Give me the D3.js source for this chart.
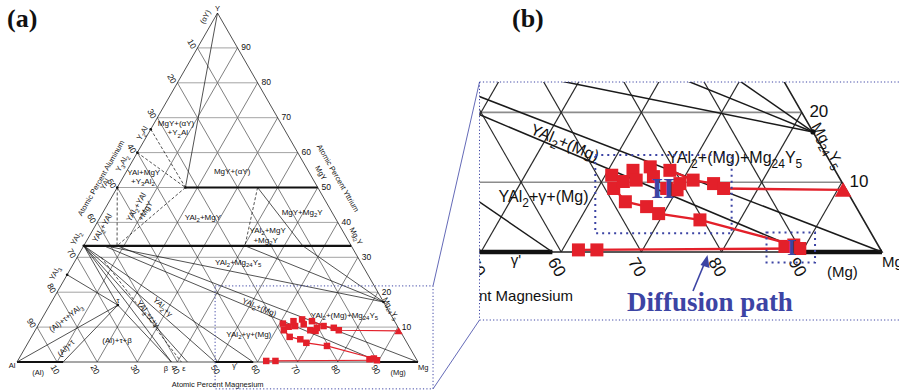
<!DOCTYPE html>
<html>
<head>
<meta charset="utf-8">
<script src="https://cdn.jsdelivr.net/npm/d3@7"></script>
<style>
  body { margin: 0; background: #fff; }
  svg { display: block; }
</style>
</head>
<body>
<svg id="chart" width="899" height="391"></svg>
<script>
'use strict';

// compositions are [Mg at.%, Y at.%]  (Al = 100 - Mg - Y)
const gridSteps = [10, 20, 30, 40, 50, 60, 70, 80, 90];

// single-phase ranges (drawn thick)
const singlePhase = [
  [[0, 0], [11.5, 0]],        // (Al)
  [[49.4, 0], [58.9, 0]],     // gamma
  [[90.5, 0], [100, 0]],      // (Mg)
  [[17, 50], [50, 50]],       // MgY
  [[0, 33.3], [66.7, 33.3]]   // YAl2 ... Mg2Y
];

const tieLines = [
  [[0, 100], [17, 50]],
  [[35, 50], [54.6, 33.3]],
  [[40.2, 33.3], [82.8, 17.2]],
  [[54.6, 33.3], [82.8, 17.2]],
  [[5.3, 33.3], [82.8, 17.2]],
  [[8.3, 33.3], [100, 0]],
  [[5, 33.3], [90.5, 0]],
  [[0, 33.3], [58.9, 0]],
  [[0, 33.3], [49.4, 0]],
  [[0, 33.3], [42.5, 0]],
  [[0, 33.3], [38.5, 0]],
  [[0, 33.3], [17, 16.3]],
  [[0, 25], [17, 16.3]],
  [[0, 0], [17, 16.3]],
  [[11.5, 0], [17, 16.3]],
  [[17, 16.3], [38.5, 0]]
];

const dashedTies = [
  [[0, 66.7], [17, 50]],
  [[0, 60], [17, 50]],
  [[17, 50], [8.3, 33.3]],
  [[0, 50], [8.3, 33.3]],
  [[35, 50], [40.2, 33.3]],
  [[6, 30], [41, 0]]
];

const compoundDots = [[0, 66.7], [0, 60], [0, 50], [0, 33.3], [0, 25], [17, 16.3], [17, 50], [82.8, 17.2]];

const compoundLabels = [
  { t: 'Y', m: -0.7, y: 101.4, r: 0 },
  { t: '(αY)', m: -2.5, y: 98.9, r: -60 },
  { t: 'Y_2Al', m: -1.6, y: 65.6, r: -60 },
  { t: 'Y_3Al_2', m: -2.3, y: 57.0, r: -60 },
  { t: 'YAl', m: -3.6, y: 51.0, r: -60 },
  { t: 'YAl_2', m: -3.0, y: 35.5, r: -60 },
  { t: 'YAl_3', m: -3.3, y: 25.5, r: -60 },
  { t: 'MgY', m: 48.7, y: 54.2, r: 60 },
  { t: 'Mg_2Y', m: 66.5, y: 36.1, r: 60 },
  { t: 'Mg_24Y_5', m: 85.6, y: 15.3, r: 60 },
  { t: 'τ', m: 16.3, y: 17.8, r: 0 },
  { t: '(Al)', m: 6.7, y: -2.9, r: 0 },
  { t: 'β', m: 38.0, y: -1.7, r: 0 },
  { t: 'ε', m: 42.5, y: -1.7, r: 0 },
  { t: 'γ\'', m: 54.9, y: -1.1, r: 0 },
  { t: '(Mg)', m: 96.5, y: -2.9, r: 0 },
  { t: 'Al', m: -0.7, y: -1.1, r: 0 },
  { t: 'Mg', m: 102, y: -1.4, r: 0 }
];

const regionLabels = [
  { t: 'MgY+(αY)', m: 5.5, y: 68.3, r: 0 },
  { t: '+Y_2Al', m: 7.2, y: 65.8, r: 0 },
  { t: 'MgY+(αY)', m: 26.3, y: 54.7, r: 0 },
  { t: 'YAl+MgY', m: 4.4, y: 54.4, r: 0 },
  { t: '+Y_3Al_2', m: 5.5, y: 51.8, r: 0 },
  { t: 'YAl_2+YAl', m: 7.5, y: 44.4, r: -60 },
  { t: '+MgY', m: 10.3, y: 43.3, r: -60 },
  { t: 'YAl_2+YAl', m: 2, y: 38.4, r: -60 },
  { t: 'YAl_2+MgY', m: 25.6, y: 41.5, r: 0 },
  { t: 'MgY+Mg_2Y', m: 49.6, y: 43.0, r: 0 },
  { t: 'YAl_2+MgY', m: 43.6, y: 37.8, r: 0 },
  { t: '+Mg_2Y', m: 44.5, y: 35.0, r: 0 },
  { t: 'YAl_2+Mg_24Y_5', m: 40.8, y: 28.7, r: 0 },
  { t: 'YAl_2+(Mg)', m: 52.6, y: 15.7, r: 23 },
  { t: 'YAl_2+γ+(Mg)', m: 53.8, y: 8.0, r: 0 },
  { t: 'YAl_2+(Mg)+Mg_24Y_5', m: 74.9, y: 13.5, r: 0 },
  { t: 'YAl_2+γ', m: 28.5, y: 15.8, r: 45 },
  { t: 'YAl_2+ε+γ', m: 25.8, y: 13.8, r: 52 },
  { t: '(Al)+τ+β', m: 21.8, y: 6.3, r: 0 },
  { t: '(Al)+τ+YAl_3', m: 5.9, y: 12.6, r: -38 },
  { t: '(Al)+τ', m: 10.2, y: 4.0, r: -45 }
];

const axisTitles = [
  { t: 'Atomic Percent Magnesium', m: 53.2, y: -6.3, r: 0 },
  { t: 'Atomic Percent Aluminum', m: -5.4, y: 52.7, r: -60 },
  { t: 'Atomic Percent Yttrium', m: 53.7, y: 52.7, r: 60 }
];

// measured compositions (red)
const clusterII = [[60.8, 11.0], [62.0, 9.1], [62.7, 10.1], [63.1, 11.7], [64.2, 10.3], [65.0, 12.2],
  [66.1, 10.8], [67.7, 11.7], [68.6, 9.1], [70.0, 8.9], [69.9, 9.8], [71.3, 10.3], [74.1, 9.8], [75.7, 9.1]];
const lowerChain = [[64.4, 7.2], [67.4, 6.5], [69.4, 5.5], [75.0, 4.6]];
const clusterI = [[87.5, 0.8], [88.5, 1.0], [89.5, 0.5]];
const bottomPts = [[62.0, 0.3], [64.3, 0.3]];
const endPoint = [90.7, 8.9];

const pathUpper = [[67.7, 11.7], [71.3, 10.3], [74.1, 9.8], [75.7, 9.1], [90.7, 8.9]];
const pathLower = [[61.2, 9.8], [64.4, 7.2], [67.4, 6.5], [69.4, 5.5], [75.0, 4.6], [88.5, 1.0]];
const pathBottom = [[62.0, 0.3], [89.5, 0.5]];

// zoom boxes for panel (b), corners as [Mg, Y]
const zoomBox = [[38.5, 21.8], [107.6, -7.7]];
const boxII = [[57.3, 13.9], [79.9, 2.7]];
const boxI = [[84.2, 2.8], [92.4, -1.5]];
const labelII = [68.1, 9.2];
const labelI = [88.4, 0.7];

const svg = d3.select('#chart');
const RED = '#e3202a', BLUE = '#3c44a4';
const SANS = '"Liberation Sans", Arial, sans-serif';
const SERIF = '"Liberation Serif", "Times New Roman", serif';

// scales: u = Mg + Y/2, v = Y (fractions)
const xa = d3.scaleLinear().domain([0, 1]).range([17, 418]);
const ya = d3.scaleLinear().domain([0, 1]).range([362, 13]);
const xb = d3.scaleLinear().domain([0, 1]).range([80, 882]);
const yb = d3.scaleLinear().domain([0, 1]).range([252, -446]);

function proj(sx, sy) {
  return (mg, y) => [sx(mg / 100 + y / 200), sy(y / 100)];
}

function seg(g, a, b, color, w, dash) {
  const l = g.append('line')
    .attr('x1', a[0]).attr('y1', a[1]).attr('x2', b[0]).attr('y2', b[1])
    .attr('stroke', color).attr('stroke-width', w);
  if (dash) l.attr('stroke-dasharray', dash);
  return l;
}

// text with "_12" style subscripts
function label(g, str, x, y, fs, rot, anchor) {
  const t = g.append('text')
    .attr('transform', 'translate(' + x + ',' + y + ') rotate(' + (rot || 0) + ')')
    .attr('font-size', fs)
    .attr('text-anchor', anchor || 'middle')
    .attr('dy', fs * 0.35)
    .attr('fill', '#111')
    .style('font-family', SANS);
  let sub = false;
  str.split(/(_\d+)/).forEach(p => {
    if (!p) return;
    if (p[0] === '_') {
      t.append('tspan').attr('dy', fs * 0.3).attr('font-size', fs * 0.75).text(p.slice(1));
      sub = true;
    } else {
      const ts = t.append('tspan').text(p);
      if (sub) { ts.attr('dy', -fs * 0.3); sub = false; }
    }
  });
  return t;
}

function drawDiagram(g, P, k, inView) {
  const lab = (str, p, fs, rot, anchor) => { if (inView(p)) label(g, str, p[0], p[1], fs, rot, anchor); };

  // grid
  gridSteps.forEach(s => {
    seg(g, P(0, s), P(100 - s, s), '#8c8c8c', 0.8 * k);
    seg(g, P(s, 0), P(s, 100 - s), '#2a2a2a', 0.6 * k);
    seg(g, P(100 - s, 0), P(0, 100 - s), '#2a2a2a', 0.6 * k);
  });
  g.append('path')
    .attr('d', d3.line()([P(0, 0), P(100, 0), P(0, 100)]) + 'Z')
    .attr('fill', 'none').attr('stroke', '#222').attr('stroke-width', 0.8 * k);

  singlePhase.forEach(d => seg(g, P(...d[0]), P(...d[1]), '#111', 2.2 * k));
  tieLines.forEach(d => seg(g, P(...d[0]), P(...d[1]), '#1a1a1a', 0.75 * k));
  dashedTies.forEach(d => seg(g, P(...d[0]), P(...d[1]), '#1a1a1a', 0.75 * k, (3 * k) + ',' + (2 * k)));

  g.selectAll(null).data(compoundDots).enter().append('circle')
    .attr('cx', d => P(...d)[0]).attr('cy', d => P(...d)[1])
    .attr('r', 1.3 * k).attr('fill', '#111');

  // tick labels
  gridSteps.forEach(s => {
    const r = P(100 - s, s);
    lab(String(s), [r[0] + 3.8 * k, r[1] - 0.5 * k], 8.5 * k, 0, 'start');
    const l = P(0, s);
    lab(String(100 - s), [l[0] - 5.5 * k, l[1] - 4 * k], 8.5 * k, 60);
    const b = P(s, 0);
    lab(String(s), [b[0] - 2 * k, b[1] + 7.5 * k], 8.5 * k, 60);
  });

  compoundLabels.forEach(d => lab(d.t, P(d.m, d.y), 7.5 * k, d.r));
  regionLabels.forEach(d => lab(d.t, P(d.m, d.y), 8 * k, d.r));
  axisTitles.forEach(d => lab(d.t, P(d.m, d.y), 7.5 * k, d.r));

  // red data
  const line = d3.line().x(d => P(...d)[0]).y(d => P(...d)[1]);
  [pathBottom, pathLower, pathUpper].forEach(p => {
    g.append('path').attr('d', line(p)).attr('fill', 'none')
      .attr('stroke', RED).attr('stroke-width', 1.2 * k);
  });
  const sq = 6.5 * k;
  g.selectAll(null).data(clusterII.concat(lowerChain, clusterI, bottomPts)).enter().append('rect')
    .attr('x', d => P(...d)[0] - sq / 2).attr('y', d => P(...d)[1] - sq / 2)
    .attr('width', sq).attr('height', sq).attr('fill', RED);
  const e = P(...endPoint);
  g.append('path')
    .attr('d', d3.symbol(d3.symbolTriangle, 30 * k * k)())
    .attr('transform', 'translate(' + e[0] + ',' + (e[1] + 1 * k) + ')')
    .attr('fill', RED);
}

// panel (a)
const Pa = proj(xa, ya);
drawDiagram(svg.append('g'), Pa, 1, () => true);

// panel (b): same diagram, magnified and clipped to its frame
const frameB = { x0: 479.5, y0: 82, x1: 899, y1: 320 };
const Pb = proj(xb, yb);
svg.append('clipPath').attr('id', 'clipB').append('rect')
  .attr('x', frameB.x0).attr('y', frameB.y0)
  .attr('width', frameB.x1 - frameB.x0).attr('height', frameB.y1 - frameB.y0);
drawDiagram(svg.append('g').attr('clip-path', 'url(#clipB)'), Pb, 2,
  p => p[0] > frameB.x0 - 6 && p[0] < frameB.x1 - 4 && p[1] > frameB.y0 + 4 && p[1] < frameB.y1);

// zoom box in (a), frame of (b), connectors
const za = Pa(...zoomBox[0]), zb = Pa(...zoomBox[1]);
const dot1 = '1.2,2.2';
svg.append('rect').attr('x', za[0]).attr('y', za[1])
  .attr('width', zb[0] - za[0]).attr('height', zb[1] - za[1])
  .attr('fill', 'none').attr('stroke', BLUE).attr('stroke-width', 1).attr('stroke-dasharray', dot1);
seg(svg, [frameB.x0, frameB.y0], [frameB.x1, frameB.y0], BLUE, 1, dot1);
seg(svg, [frameB.x0, frameB.y0], [frameB.x0, frameB.y1], BLUE, 1, dot1);
seg(svg, [frameB.x0, frameB.y1], [frameB.x1, frameB.y1], BLUE, 1, dot1);
seg(svg, [zb[0], za[1]], [frameB.x0, frameB.y0], BLUE, 0.8);
seg(svg, [zb[0], zb[1]], [frameB.x0, frameB.y1], BLUE, 0.8);

[boxII, boxI].forEach(bx => {
  const p0 = Pb(...bx[0]), p1 = Pb(...bx[1]);
  svg.append('rect').attr('x', p0[0]).attr('y', p0[1])
    .attr('width', p1[0] - p0[0]).attr('height', p1[1] - p0[1])
    .attr('fill', 'none').attr('stroke', BLUE).attr('stroke-width', 2)
    .attr('stroke-dasharray', '2,4');
});

function serifText(str, x, y, fs, color, anchor) {
  return svg.append('text').attr('x', x).attr('y', y).attr('text-anchor', anchor || 'start')
    .attr('font-size', fs).attr('fill', color)
    .style('font-family', SERIF).style('font-weight', 'bold').text(str);
}

const pII = Pb(...labelII), pI = Pb(...labelI);
serifText('II', pII[0], pII[1] + 10, 30, BLUE, 'middle');
serifText('I', pI[0], pI[1] + 8, 24, BLUE, 'middle');

// arrow + caption
seg(svg, [693, 291], [705, 262], BLUE, 1.6);
svg.append('path').attr('d', 'M707.5,255 L700.5,265 L709.5,268 Z').attr('fill', BLUE);
serifText('Diffusion path', 710, 311, 27, BLUE, 'middle');

serifText('(a)', 7, 27, 26, '#111');
serifText('(b)', 512, 27, 26, '#111');
</script>
</body>
</html>
